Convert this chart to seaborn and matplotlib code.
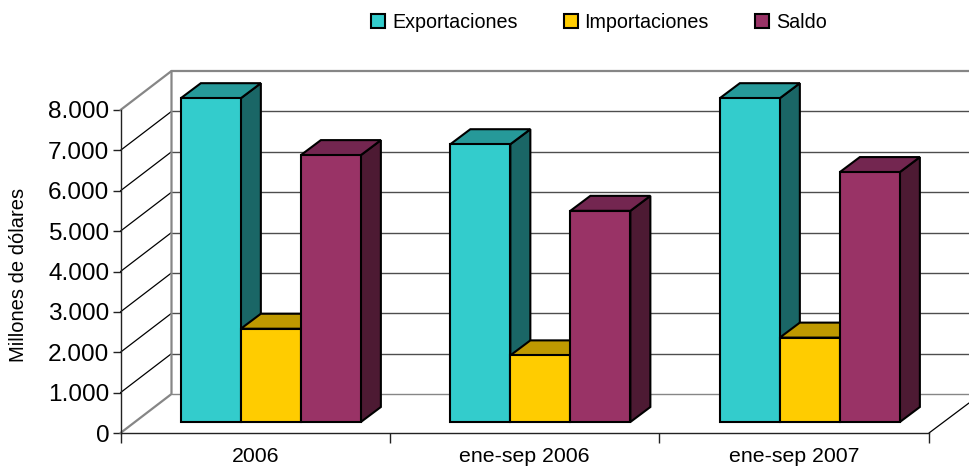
import pandas as pd
import seaborn as sns
import matplotlib
matplotlib.use('Agg')
import matplotlib.pyplot as plt
from matplotlib.patches import Polygon, Patch
from matplotlib.transforms import Affine2D

periodos = ['2006', 'ene-sep 2006', 'ene-sep 2007']
exportaciones = [8020, 6880, 8020]
importaciones = [2310, 1650, 2090]
saldo = [6610, 5230, 6190]

series = ['Exportaciones', 'Importaciones', 'Saldo']
colores = ['#33CCCC', '#FFCC00', '#993366']
colores_arriba = ['#269999', '#BF9900', '#732650']
colores_lado = ['#1A6666', '#806600', '#4D1A33']

y_ticks = [0, 1000, 2000, 3000, 4000, 5000, 6000, 7000, 8000]
y_labels = ['0', '1.000', '2.000', '3.000', '4.000', '5.000', '6.000', '7.000', '8.000']

sns.set_theme(style='white')
plt.rcParams['font.family'] = ['Liberation Sans', 'DejaVu Sans']

# long table for seaborn
df = pd.DataFrame({'periodo': periodos * 3,
                   'serie': [s for s in series for _ in periodos],
                   'valor': exportaciones + importaciones + saldo})

W, H = 969, 467
fig = plt.figure(figsize=(W / 100, H / 100), dpi=100)
ax = fig.add_axes([120.5 / W, (H - 433) / H, (929 - 120.5) / W, 323 / H])

sns.barplot(data=df, x='periodo', y='valor', hue='serie', hue_order=series,
            palette=colores, saturation=1, width=0.668, gap=0, legend=False,
            edgecolor='black', linewidth=1.5, ax=ax)

ax.set_xlim(-0.5, 2.5)
ax.set_ylim(0, 8000)

# pixels per data unit, the fake 3d depth is worked out from these
sx = (929 - 120.5) / 3
sy = 323 / 8000

# depth of the walls
wall_dx = 51 / sx
wall_dy = 39 / sy
right_edge = -0.5 + (969 - 120.5) / sx

gris = '#868686'
for v in y_ticks:
    if v > 0 and v < 8000:
        ax.plot([-0.5, -0.5 + wall_dx], [v, v + wall_dy], color='black', lw=0.9, clip_on=False, zorder=1)
    if v < 8000:
        ax.plot([-0.5 + wall_dx, right_edge], [v + wall_dy, v + wall_dy], color='#4d4d4d' if v else gris,
                lw=1.0, clip_on=False, zorder=1)
ax.plot([-0.5, -0.5 + wall_dx, -0.5 + wall_dx], [0, wall_dy, 8000 + wall_dy], color=gris, lw=1.6, clip_on=False, zorder=1.2)
ax.plot([-0.5, -0.5 + wall_dx, right_edge], [8000, 8000 + wall_dy, 8000 + wall_dy], color=gris, lw=1.6, clip_on=False, zorder=1.2)
ax.plot([2.5, right_edge], [0, 30 / sy], color='black', lw=0.9, clip_on=False, zorder=1)

# bars stand a bit inside the floor
bar_dx = 20 / sx
bar_dy = 15 / sy
tr = ax.transData + Affine2D().translate(15.6, 11)

for i, cont in enumerate(ax.containers):
    for bar in cont:
        bar.set_transform(tr)
        bar.set_clip_on(False)
        bar.set_zorder(5)
        x0 = bar.get_x()
        x1 = x0 + bar.get_width()
        h = bar.get_height()
        arriba = Polygon([(x0, h), (x0 + bar_dx, h + bar_dy), (x1 + bar_dx, h + bar_dy), (x1, h)],
                         facecolor=colores_arriba[i], edgecolor='black', lw=1.5, transform=tr,
                         clip_on=False, zorder=2 + i * 0.5)
        lado = Polygon([(x1, 0), (x1 + bar_dx, bar_dy), (x1 + bar_dx, h + bar_dy), (x1, h)],
                       facecolor=colores_lado[i], edgecolor='black', lw=1.5, transform=tr,
                       clip_on=False, zorder=2 + i * 0.5)
        ax.add_patch(lado)
        ax.add_patch(arriba)

# axes
sns.despine(ax=ax, top=True, right=True)
for lado_ax in ['left', 'bottom']:
    ax.spines[lado_ax].set_color('#222222')
    ax.spines[lado_ax].set_linewidth(1.0)
    ax.spines[lado_ax].set_zorder(1.5)

ax.set_yticks(y_ticks)
ax.set_yticklabels(y_labels, fontsize=17.6)
ax.tick_params(axis='y', length=6, width=1, color='#222222', pad=2, labelcolor='black', left=True)
ax.set_xticks([0, 1, 2])
ax.set_xticklabels(periodos, fontsize=15.3, color='black')
ax.tick_params(axis='x', which='major', length=0, pad=10, bottom=False)
ax.set_xticks([-0.5, 0.5, 1.5, 2.5], minor=True)
ax.tick_params(axis='x', which='minor', length=7, width=1, color='#222222', bottom=True)
ax.set_xlabel('')
ax.set_ylabel('')
fig.text(19 / W, (H - 275) / H, 'Millones de dólares', rotation=90, fontsize=14.5,
         ha='center', va='center', color='black')

handles = [Patch(facecolor=c, edgecolor='black', lw=1.5) for c in colores]
fig.legend(handles, series, loc='center', bbox_to_anchor=(599 / W, (H - 22.5) / H), ncol=3,
           frameon=False, fontsize=14.2, handlelength=0.7, handleheight=0.7,
           handletextpad=0.35, columnspacing=2.35, labelcolor='black')

fig.savefig('out.png', dpi=100)
